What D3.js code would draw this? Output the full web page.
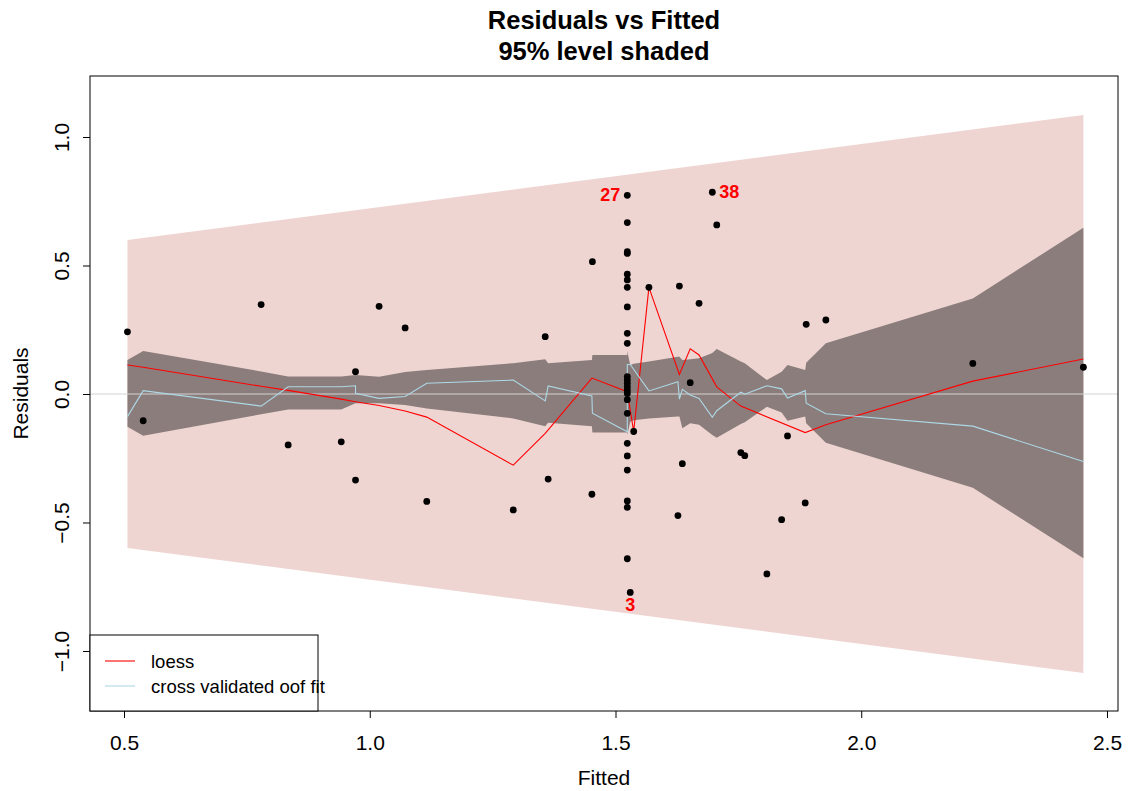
<!DOCTYPE html>
<html>
<head>
<meta charset="utf-8">
<script src="https://cdn.jsdelivr.net/npm/d3@7"></script>
<style>
  html, body { margin: 0; padding: 0; background: #ffffff; }
  svg { display: block; font-family: "Liberation Sans", Arial, Helvetica, sans-serif; }
</style>
</head>
<body>
<svg id="chart" width="1128" height="791"></svg>
<script>
// ---- observed residuals against fitted values ----
const fittedVals = [
  0.507, 0.539, 0.779, 0.834, 0.942, 0.971, 0.971, 1.019, 1.072, 1.116,
  1.292, 1.357, 1.363, 1.452, 1.453,
  1.524, 1.524, 1.524, 1.524, 1.524, 1.524, 1.524, 1.524, 1.524, 1.524,
  1.524, 1.524, 1.524, 1.524, 1.524, 1.524, 1.524, 1.524, 1.524, 1.524,
  1.524, 1.524, 1.524, 1.524,
  1.530, 1.537, 1.568, 1.630, 1.627, 1.636, 1.652, 1.670, 1.697, 1.706,
  1.755, 1.763, 1.808, 1.838, 1.850, 1.886, 1.888, 1.928, 2.227, 2.452
];
const residVals = [
  0.242, -0.104, 0.348, -0.198, -0.186, 0.087, -0.335, 0.341, 0.257, -0.418,
  -0.451, 0.223, -0.331, -0.390, 0.515,
  0.773, 0.667, 0.554, 0.547, 0.466, 0.444, 0.415, 0.339, 0.236, 0.197,
  0.068, 0.055, 0.042, 0.028, 0.015, 0.002, -0.022, -0.075, -0.192, -0.241,
  -0.296, -0.416, -0.441, -0.641,
  -0.772, -0.146, 0.415, 0.420, -0.473, -0.271, 0.044, 0.353, 0.785, 0.658,
  -0.228, -0.240, -0.700, -0.489, -0.163, -0.424, 0.271, 0.288, 0.119, 0.104
];

// ---- labelled observations ----
const labelText = ["27", "38", "3"];
const labelFit  = [1.524, 1.697, 1.530];
const labelRes  = [0.773, 0.785, -0.772];

// ---- outer 95% band (linear in fitted) ----
const outerFit  = [0.507, 2.452];
const outerHalf = [0.599, 1.086];

// ---- inner band ----
const innerFit = [
  0.507, 0.539, 0.779, 0.834, 0.942, 0.971, 1.019, 1.072, 1.116, 1.292,
  1.357, 1.363, 1.452, 1.453, 1.524, 1.524, 1.530, 1.537, 1.568, 1.627,
  1.630, 1.636, 1.652, 1.670, 1.697, 1.706, 1.755, 1.763, 1.808, 1.838,
  1.850, 1.886, 1.888, 1.928, 2.227, 2.452
];
const innerUp = [
  0.132, 0.167, 0.088, 0.068, 0.068, 0.074, 0.067, 0.086, 0.093, 0.120,
  0.135, 0.120, 0.132, 0.152, 0.152, 0.167, 0.113, 0.118, 0.126, 0.145,
  0.145, 0.132, 0.135, 0.139, 0.160, 0.175, 0.126, 0.120, 0.054, 0.087,
  0.113, 0.093, 0.122, 0.197, 0.372, 0.647
];
const innerLo = [
  -0.127, -0.162, -0.079, -0.060, -0.060, -0.036, -0.036, -0.043, -0.056, -0.095,
  -0.125, -0.112, -0.125, -0.150, -0.150, -0.160, -0.108, -0.102, -0.095, -0.088,
  -0.088, -0.133, -0.114, -0.120, -0.160, -0.170, -0.117, -0.110, -0.050, -0.072,
  -0.104, -0.088, -0.114, -0.190, -0.365, -0.639
];

// ---- loess smooth ----
const loessFit = [
  0.507, 0.539, 0.779, 0.834, 0.942, 0.971, 1.019, 1.072, 1.116, 1.292,
  1.357, 1.452, 1.524, 1.537, 1.568, 1.630, 1.652, 1.670, 1.706, 1.755,
  1.886, 1.928, 2.227, 2.452
];
const loessVal = [
  0.113, 0.104, 0.030, 0.014, -0.020, -0.030, -0.045, -0.066, -0.090, -0.277,
  -0.153, 0.062, 0.009, -0.146, 0.415, 0.076, 0.176, 0.152, 0.028, -0.047,
  -0.150, -0.120, 0.050, 0.136
];

// ---- cross validated out-of-fold fit ----
const cvFit = [
  0.507, 0.539, 0.779, 0.834, 0.942, 0.971, 0.971, 1.019, 1.072, 1.116,
  1.292, 1.357, 1.363, 1.452, 1.453, 1.524, 1.524, 1.530, 1.568, 1.627,
  1.630, 1.636, 1.652, 1.670, 1.697, 1.706, 1.755, 1.763, 1.808, 1.838,
  1.850, 1.886, 1.888, 1.928, 2.227, 2.452
];
const cvVal = [
  -0.088, 0.013, -0.047, 0.028, 0.028, 0.032, 0.003, -0.017, -0.010, 0.042,
  0.054, -0.027, 0.031, -0.008, -0.075, -0.147, 0.115, 0.115, 0.012, 0.048,
  -0.020, 0.018, -0.004, -0.017, -0.091, -0.065, 0.007, -0.001, 0.032, 0.020,
  -0.016, 0.013, -0.036, -0.077, -0.125, -0.263
];

// ---- axes ----
const xTicks = [0.5, 1.0, 1.5, 2.0, 2.5];
const yTicks = [-1.0, -0.5, 0.0, 0.5, 1.0];

const svg = d3.select("#chart");
const plot = { left: 90, right: 1118, top: 76, bottom: 711 };
const axisFont = 21;

const x = d3.scaleLinear().domain([0.4308, 2.5224]).range([plot.left, plot.right]);
const y = d3.scaleLinear().domain([-1.2335, 1.2374]).range([plot.bottom, plot.top]);

svg.append("defs").append("clipPath").attr("id", "plotClip")
  .append("rect")
  .attr("x", plot.left).attr("y", plot.top)
  .attr("width", plot.right - plot.left).attr("height", plot.bottom - plot.top);

const g = svg.append("g").attr("clip-path", "url(#plotClip)");

// outer band
const outerIdx = d3.range(outerFit.length);
g.append("path")
  .datum(outerIdx)
  .attr("fill", "#EED5D2")
  .attr("d", d3.area()
    .x(i => x(outerFit[i]))
    .y0(i => y(-outerHalf[i]))
    .y1(i => y(outerHalf[i])));

// inner band
const innerIdx = d3.range(innerFit.length);
g.append("path")
  .datum(innerIdx)
  .attr("fill", "#8B7D7B")
  .attr("d", d3.area()
    .x(i => x(innerFit[i]))
    .y0(i => y(innerLo[i]))
    .y1(i => y(innerUp[i])));

// zero reference line
g.append("line")
  .attr("x1", plot.left).attr("x2", plot.right)
  .attr("y1", y(0)).attr("y2", y(0))
  .attr("stroke", "#D3D3D3").attr("stroke-width", 1);

// loess
g.append("path")
  .datum(d3.range(loessFit.length))
  .attr("fill", "none").attr("stroke", "#FF0000").attr("stroke-width", 1.1)
  .attr("d", d3.line().x(i => x(loessFit[i])).y(i => y(loessVal[i])));

// cross validated fit
g.append("path")
  .datum(d3.range(cvFit.length))
  .attr("fill", "none").attr("stroke", "#ADD8E6").attr("stroke-width", 1.1)
  .attr("d", d3.line().x(i => x(cvFit[i])).y(i => y(cvVal[i])));

// points
g.append("g").selectAll("circle")
  .data(d3.range(fittedVals.length))
  .join("circle")
  .attr("cx", i => x(fittedVals[i]))
  .attr("cy", i => y(residVals[i]))
  .attr("r", 3.4)
  .attr("fill", "#000000");

// point labels: 27 to the left, 38 to the right, 3 below
const labelPlacement = {
  "27": { dx: -7, dy: 0, anchor: "end" },
  "38": { dx: 7, dy: 0, anchor: "start" },
  "3":  { dx: 0, dy: 13, anchor: "middle" }
};
svg.append("g").selectAll("text")
  .data(d3.range(labelText.length))
  .join("text")
  .attr("x", i => x(labelFit[i]) + labelPlacement[labelText[i]].dx)
  .attr("y", i => y(labelRes[i]) + labelPlacement[labelText[i]].dy)
  .attr("text-anchor", i => labelPlacement[labelText[i]].anchor)
  .attr("dominant-baseline", "central")
  .attr("fill", "#FF0000")
  .attr("font-weight", "bold")
  .attr("font-size", 18)
  .text(i => labelText[i]);

// x axis
const xAxis = svg.append("g")
  .attr("transform", `translate(0,${plot.bottom})`)
  .call(d3.axisBottom(x).tickValues(xTicks).tickFormat(d3.format(".1f")).tickSize(7).tickSizeOuter(0));
xAxis.select(".domain").remove();
xAxis.selectAll("line").attr("stroke", "#000");
xAxis.selectAll("text")
  .attr("font-size", axisFont).attr("fill", "#000")
  .attr("font-family", "Liberation Sans, Arial, sans-serif")
  .attr("y", 0).attr("dy", null)
  .attr("transform", "translate(0,31)")
  .attr("dominant-baseline", "central");

// y axis
const yAxis = svg.append("g")
  .attr("transform", `translate(${plot.left},0)`)
  .call(d3.axisLeft(y).tickValues(yTicks).tickFormat(d3.format(".1f")).tickSize(7).tickSizeOuter(0));
yAxis.select(".domain").remove();
yAxis.selectAll("line").attr("stroke", "#000");
yAxis.selectAll("text")
  .attr("font-size", axisFont).attr("fill", "#000")
  .attr("font-family", "Liberation Sans, Arial, sans-serif")
  .attr("x", 0).attr("dy", null).attr("y", 0)
  .attr("text-anchor", "middle")
  .attr("dominant-baseline", "central")
  .attr("transform", "translate(-29,0) rotate(-90)");

// plot frame
svg.append("rect")
  .attr("x", plot.left).attr("y", plot.top)
  .attr("width", plot.right - plot.left).attr("height", plot.bottom - plot.top)
  .attr("fill", "none").attr("stroke", "#000").attr("stroke-width", 1);

// axis titles
svg.append("text")
  .attr("x", (plot.left + plot.right) / 2).attr("y", 777)
  .attr("text-anchor", "middle").attr("dominant-baseline", "central")
  .attr("font-size", axisFont).text("Fitted");
svg.append("text")
  .attr("transform", `translate(20,${(plot.top + plot.bottom) / 2}) rotate(-90)`)
  .attr("text-anchor", "middle").attr("dominant-baseline", "central")
  .attr("font-size", axisFont).text("Residuals");

// main title
const title = svg.append("g").attr("font-weight", "bold").attr("font-size", 25.5).attr("text-anchor", "middle");
title.append("text").attr("x", (plot.left + plot.right) / 2).attr("y", 20)
  .attr("dominant-baseline", "central").text("Residuals vs Fitted");
title.append("text").attr("x", (plot.left + plot.right) / 2).attr("y", 51)
  .attr("dominant-baseline", "central").text("95% level shaded");

// legend
const legendNames = ["loess", "cross validated oof fit"];
const legendColors = ["#FF0000", "#ADD8E6"];
const legend = svg.append("g");
legend.append("rect")
  .attr("x", plot.left).attr("y", 635)
  .attr("width", 228).attr("height", plot.bottom - 635)
  .attr("fill", "#ffffff").attr("stroke", "#000").attr("stroke-width", 1);
legendNames.forEach((name, i) => {
  const ly = 661 + i * 25;
  legend.append("line")
    .attr("x1", 105).attr("x2", 135).attr("y1", ly).attr("y2", ly)
    .attr("stroke", legendColors[i]).attr("stroke-width", 1.1);
  legend.append("text")
    .attr("x", 151).attr("y", ly)
    .attr("dominant-baseline", "central")
    .attr("font-size", 18.5).attr("fill", "#000")
    .text(name);
});
</script>
</body>
</html>
